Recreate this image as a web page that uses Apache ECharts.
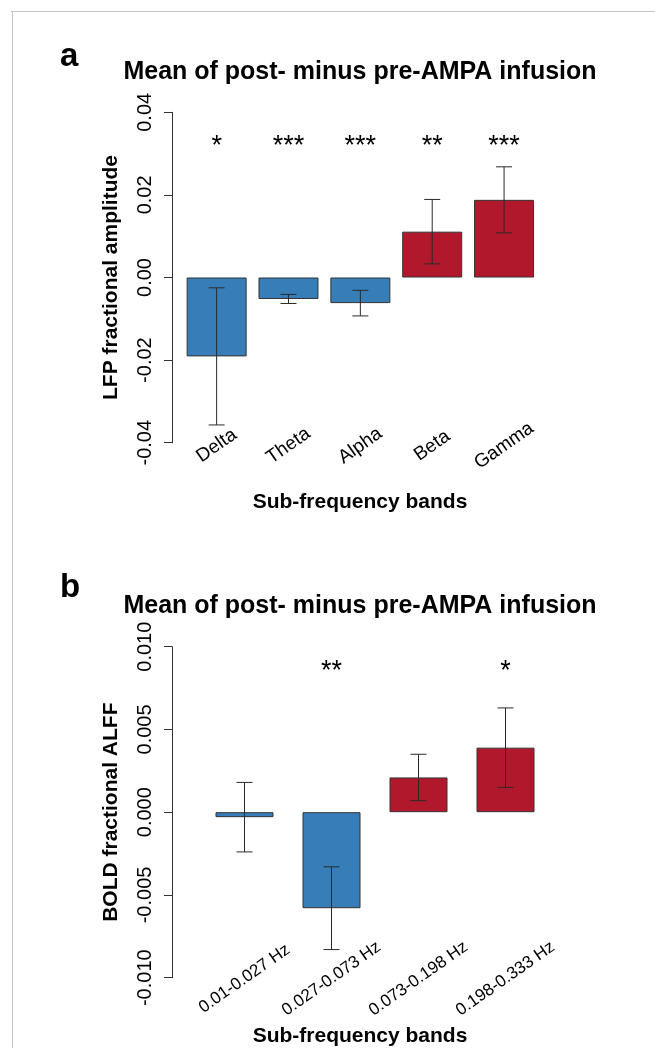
<!DOCTYPE html>
<html>
<head>
<meta charset="utf-8">
<title>Mean of post- minus pre-AMPA infusion</title>
<script src="https://cdn.jsdelivr.net/npm/echarts@6/dist/echarts.min.js"></script>
<style>
html, body { margin: 0; padding: 0; background: #fff; }
#chart { width: 655px; height: 1048px; }
</style>
</head>
<body>
<div id="chart"></div>
<script>
// panel a - LFP
const lfpBands = ["Delta", "Theta", "Alpha", "Beta", "Gamma"];
const lfpMean = [-0.0191, -0.0052, -0.0062, 0.0111, 0.0188];
const lfpErr = [0.0166, 0.0011, 0.0031, 0.0078, 0.0080];
const lfpStars = ["*", "***", "***", "**", "***"];
const lfpTicks = [-0.04, -0.02, 0, 0.02, 0.04];
const lfpStarY = 0.0318;

// panel b - BOLD
const boldBands = ["0.01-0.027 Hz", "0.027-0.073 Hz", "0.073-0.198 Hz", "0.198-0.333 Hz"];
const boldMean = [-0.0003, -0.0058, 0.0021, 0.0039];
const boldErr = [0.0021, 0.0025, 0.0014, 0.0024];
const boldStars = ["", "**", "", "*"];
const boldTicks = [-0.01, -0.005, 0, 0.005, 0.01];
const boldStarY = 0.0085;

const BLUE = "#377eb8";
const RED = "#b2182b";
const FONT = '"Liberation Sans", Arial, sans-serif';

const chart = echarts.init(document.getElementById("chart"));

// error bars drawn with custom series
const errorBarItem = (params, api) => {
    const i = api.value(0);
    const top = api.coord([i, api.value(2)]);
    const bottom = api.coord([i, api.value(1)]);
    const half = 8;
    const style = { stroke: "#2a2a2a", lineWidth: 1 };
    return {
        type: "group",
        children: [
            { type: "line", shape: { x1: top[0], y1: top[1], x2: bottom[0], y2: bottom[1] }, style },
            { type: "line", shape: { x1: top[0] - half, y1: top[1], x2: top[0] + half, y2: top[1] }, style },
            { type: "line", shape: { x1: bottom[0] - half, y1: bottom[1], x2: bottom[0] + half, y2: bottom[1] }, style }
        ]
    };
};

const starItem = (stars) => (params, api) => {
    const p = api.coord([api.value(0), api.value(1)]);
    return {
        type: "text",
        x: p[0],
        y: p[1],
        style: {
            text: stars[params.dataIndex],
            font: "27px " + FONT,
            fill: "#000",
            textAlign: "center",
            textVerticalAlign: "middle"
        }
    };
};

const yAxisFor = (gridIndex, ticks, digits, name, offset) => ({
    type: "value",
    gridIndex,
    min: ticks[0],
    max: ticks[ticks.length - 1],
    interval: (ticks[ticks.length - 1] - ticks[0]) / (ticks.length - 1),
    offset,
    name,
    nameLocation: "middle",
    nameGap: 50,
    nameTextStyle: { fontFamily: FONT, fontWeight: "bold", fontSize: 21, color: "#000" },
    axisLine: { show: true, lineStyle: { color: "#333", width: 1 } },
    axisTick: { show: true, length: 8, lineStyle: { color: "#333", width: 1 } },
    axisLabel: {
        rotate: 90,
        margin: 17,
        fontFamily: FONT,
        fontSize: 20,
        color: "#000",
        formatter: (v) => v.toFixed(digits)
    },
    splitLine: { show: false }
});

const xAxisFor = (gridIndex, bands, fontSize, margin) => ({
    type: "category",
    gridIndex,
    data: bands,
    axisLine: { show: false },
    axisTick: { show: false },
    axisLabel: {
        rotate: 35,
        align: "center",
        verticalAlign: "middle",
        margin,
        interval: 0,
        fontFamily: FONT,
        fontSize,
        color: "#000"
    }
});

const barSeries = (idx, mean, width) => ({
    type: "bar",
    xAxisIndex: idx,
    yAxisIndex: idx,
    barWidth: width,
    data: mean.map((v) => ({ value: v, itemStyle: { color: v < 0 ? BLUE : RED } })),
    itemStyle: { borderColor: "#333", borderWidth: 1 },
    z: 2
});

const option = {
    animation: false,
    backgroundColor: "#fff",
    grid: [
        { left: 180.7, width: 359.3, top: 112.3, height: 330.4 },
        { left: 201, width: 348, top: 646.7, height: 331 }
    ],
    xAxis: [
        xAxisFor(0, lfpBands, 19, 3),
        xAxisFor(1, boldBands, 17, 1)
    ],
    yAxis: [
        yAxisFor(0, lfpTicks, 2, "LFP fractional amplitude", 8.7),
        yAxisFor(1, boldTicks, 3, "BOLD fractional ALFF", 29)
    ],
    series: [
        barSeries(0, lfpMean, 60),
        {
            type: "custom",
            xAxisIndex: 0,
            yAxisIndex: 0,
            renderItem: errorBarItem,
            data: lfpMean.map((m, i) => [i, m - lfpErr[i], m + lfpErr[i]]),
            z: 5
        },
        {
            type: "custom",
            xAxisIndex: 0,
            yAxisIndex: 0,
            renderItem: starItem(lfpStars),
            data: lfpStars.map((s, i) => [i, lfpStarY]),
            z: 5
        },
        barSeries(1, boldMean, 58),
        {
            type: "custom",
            xAxisIndex: 1,
            yAxisIndex: 1,
            renderItem: errorBarItem,
            data: boldMean.map((m, i) => [i, m - boldErr[i], m + boldErr[i]]),
            z: 5
        },
        {
            type: "custom",
            xAxisIndex: 1,
            yAxisIndex: 1,
            renderItem: starItem(boldStars),
            data: boldStars.map((s, i) => [i, boldStarY]),
            z: 5
        }
    ],
    graphic: [
        // frame lines
        { type: "line", shape: { x1: 11, y1: 11.5, x2: 655, y2: 11.5 }, style: { stroke: "#c4c4c4", lineWidth: 1 } },
        { type: "line", shape: { x1: 12.5, y1: 11, x2: 12.5, y2: 1048 }, style: { stroke: "#c4c4c4", lineWidth: 1 } },
        // panel letters and titles
        { type: "text", x: 60, y: 57, style: { text: "a", font: "bold 33px " + FONT, fill: "#000", textVerticalAlign: "middle" } },
        { type: "text", x: 360, y: 72, style: { text: "Mean of post- minus pre-AMPA infusion", font: "bold 25px " + FONT, fill: "#000", textAlign: "center", textVerticalAlign: "middle" } },
        { type: "text", x: 60, y: 588, style: { text: "b", font: "bold 33px " + FONT, fill: "#000", textVerticalAlign: "middle" } },
        { type: "text", x: 360, y: 606, style: { text: "Mean of post- minus pre-AMPA infusion", font: "bold 25px " + FONT, fill: "#000", textAlign: "center", textVerticalAlign: "middle" } },
        // x axis names
        { type: "text", x: 360, y: 502, style: { text: "Sub-frequency bands", font: "bold 21px " + FONT, fill: "#000", textAlign: "center", textVerticalAlign: "middle" } },
        { type: "text", x: 360, y: 1036, style: { text: "Sub-frequency bands", font: "bold 21px " + FONT, fill: "#000", textAlign: "center", textVerticalAlign: "middle" } }
    ]
};

chart.setOption(option);
</script>
</body>
</html>
